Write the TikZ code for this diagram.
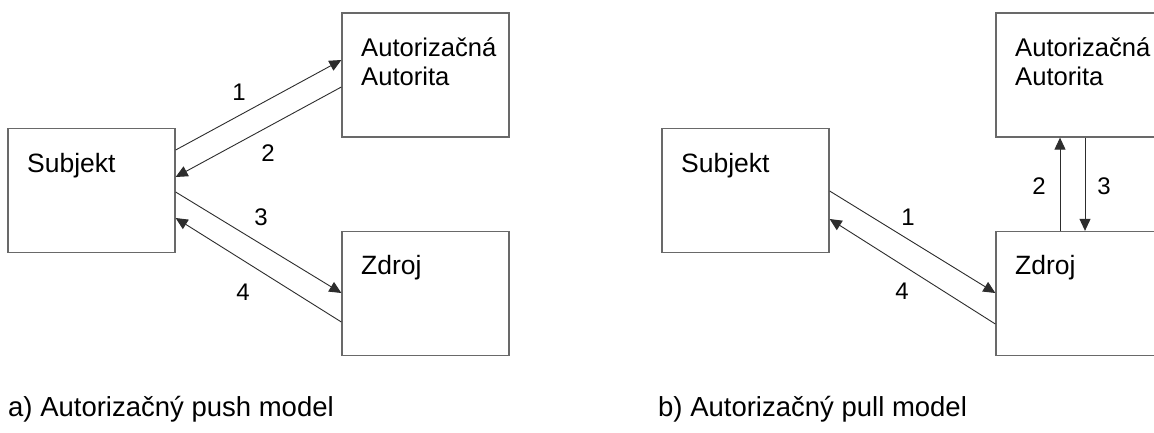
\documentclass[tikz,border=0pt]{standalone}
\usepackage{fontspec}
\setmainfont{Liberation Sans}
\usetikzlibrary{arrows.meta}
\definecolor{boxgray}{RGB}{105,105,105}
\definecolor{linegray}{RGB}{45,45,45}
\begin{document}
\begin{tikzpicture}[x=1pt,y=-1pt,
  boxnode/.style={draw=boxgray,line width=1.3pt,minimum width=167pt,minimum height=124pt,inner sep=0pt},
  boxtext/.style={anchor=base west,inner sep=0pt,font=\fontsize{26.5}{29}\selectfont},
  aatext/.style={anchor=base west,inner sep=0pt,font=\fontsize{25.6}{29}\selectfont},
  numlabel/.style={inner sep=0pt,font=\fontsize{24}{28}\selectfont},
  captiontext/.style={anchor=base west,inner sep=0pt,font=\fontsize{27.5}{32}\selectfont},
  conn/.style={draw=linegray,line width=0.9pt,-{Triangle[length=12pt,width=11pt]}}]
\useasboundingbox (0,0) rectangle (1154,432);
\clip (0,0) rectangle (1154,432);
\fill[white] (0,0) rectangle (1154,432);
% --- a) push model
\node[boxnode] (subjA) at (91.5,190.5) {};
\node[boxnode] (aaA) at (425.5,75) {};
\node[boxnode] (zdA) at (425.5,293.5) {};
\node[boxtext] (tsubjA) at (27,172) {Subjekt};
\node[aatext] (taaA) at (361,56) {Autorizačná};
\node[aatext] (taaA2) at (361,85) {Autorita};
\node[boxtext] (tzdA) at (361,274) {Zdroj};
\draw[conn] (subjA.east |- 0,150) -- (aaA.west |- 0,60);
\draw[conn] (aaA.west |- 0,87) -- (subjA.east |- 0,177);
\draw[conn] (subjA.east |- 0,192) -- (zdA.west |- 0,293);
\draw[conn] (zdA.west |- 0,322) -- (subjA.east |- 0,218);
\node[numlabel] (l1A) at (239,92) {1};
\node[numlabel] (l2A) at (268,153) {2};
\node[numlabel] (l3A) at (261,217) {3};
\node[numlabel] (l4A) at (243,292) {4};
\node[captiontext] (capA) at (8,416) {a) Autorizačný push model};
% --- b) pull model
\node[boxnode] (subjB) at (745.5,190.5) {};
\node[boxnode] (aaB) at (1079.5,75) {};
\node[boxnode] (zdB) at (1079.5,293.5) {};
\node[boxtext] (tsubjB) at (681,172) {Subjekt};
\node[aatext] (taaB) at (1015,56) {Autorizačná};
\node[aatext] (taaB2) at (1015,85) {Autorita};
\node[boxtext] (tzdB) at (1015,274) {Zdroj};
\draw[conn] (subjB.east |- 0,191) -- (zdB.west |- 0,293);
\draw[conn] (zdB.west |- 0,324) -- (subjB.east |- 0,219);
\draw[conn] (1060,0 |- zdB.north) -- (1060,0 |- aaB.south);
\draw[conn] (1085,0 |- aaB.south) -- (1085,0 |- zdB.north);
\node[numlabel] (l1B) at (908,217) {1};
\node[numlabel] (l2B) at (1039,186) {2};
\node[numlabel] (l3B) at (1104,186) {3};
\node[numlabel] (l4B) at (902,291) {4};
\node[captiontext] (capB) at (658,416) {b) Autorizačný pull model};
\end{tikzpicture}
\end{document}
